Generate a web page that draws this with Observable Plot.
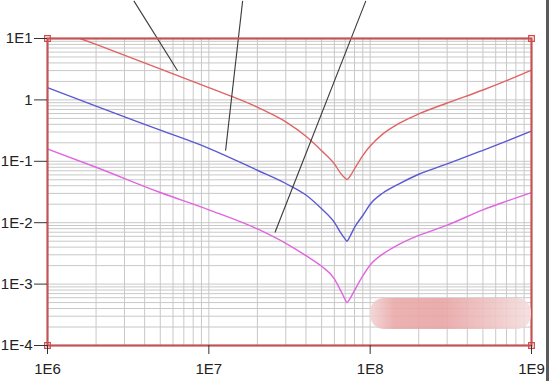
<!DOCTYPE html>
<html>
<head>
<meta charset="utf-8">
<script src="https://cdn.jsdelivr.net/npm/d3@7"></script>
<script src="https://cdn.jsdelivr.net/npm/@observablehq/plot@0.6"></script>
<style>
  html, body { margin: 0; padding: 0; background: #fff; }
  #wrap { position: relative; width: 552px; height: 381px; overflow: hidden; }
  #edge { position: absolute; left: 546px; top: 0; width: 2.5px; height: 381px; background: #5a5a5a; }
  #blur { position: absolute; left: 370px; top: 298px; width: 161px; height: 31px; border-radius: 14px;
          background: linear-gradient(90deg, #f2d4d4 0%, #e9a9a9 15%, #e8a4a4 45%, #eec2c2 75%, #f4dede 100%); opacity: 0.9; }
</style>
</head>
<body>
<div id="wrap"><div id="chart"></div><div id="edge"></div><div id="blur"></div></div>
<script>
// Frequency (Hz) and impedance magnitude
const redFreq = [1.59e6, 2e6, 5e6, 1e7, 2e7, 3e7, 4e7, 5e7, 6e7, 6.6e7, 7e7, 7.17e7, 7.5e7, 8e7, 9e7, 1e8, 1.2e8, 1.5e8, 2e8, 3e8, 5e8, 7e8, 1e9];
const redZ    = [10, 8.0, 3.2, 1.58, 0.76, 0.44, 0.256, 0.149, 0.0908, 0.0624, 0.053, 0.0504, 0.057, 0.0752, 0.124, 0.177, 0.28, 0.41, 0.59, 0.89, 1.45, 2.06, 3.06];

const blueFreq = [1e6, 2e6, 5e6, 1e7, 2e7, 3e7, 4e7, 5e7, 6e7, 6.6e7, 7e7, 7.17e7, 7.5e7, 8e7, 9e7, 1e8, 1.2e8, 1.5e8, 2e8, 3e8, 5e8, 7e8, 1e9];
const blueZ    = [1.58, 0.79, 0.322, 0.163, 0.0715, 0.0435, 0.0282, 0.0168, 0.0101, 0.0067, 0.0054, 0.0050, 0.0060, 0.0084, 0.0131, 0.0200, 0.0305, 0.0425, 0.0615, 0.0905, 0.151, 0.213, 0.31];

const magFreq = [1e6, 2e6, 5e6, 1e7, 2e7, 3e7, 4e7, 5e7, 6e7, 6.6e7, 7e7, 7.17e7, 7.5e7, 8e7, 9e7, 1e8, 1.2e8, 1.5e8, 2e8, 3e8, 5e8, 7e8, 1e9];
const magZ    = [0.159, 0.080, 0.031, 0.0162, 0.0079, 0.0046, 0.0029, 0.00195, 0.00122, 0.00076, 0.00056, 0.00050, 0.00058, 0.00079, 0.00136, 0.00205, 0.0031, 0.0044, 0.0062, 0.0091, 0.0162, 0.0224, 0.031];

// Annotation leader lines (data coordinates): start above the plot, end on a curve
const leaderStartF = [3.43e6, 1.62e7, 9.40e7];
const leaderStartZ = [41, 41, 41];
const leaderEndF   = [6.40e6, 1.27e7, 2.57e7];
const leaderEndZ   = [2.99, 0.149, 0.00693];

const xTickValues = [1e6, 1e7, 1e8, 1e9];
const xTickLabels = ["1E6", "1E7", "1E8", "1E9"];
const yTickValues = [10, 1, 0.1, 0.01, 0.001, 0.0001];
const yTickLabels = ["1E1", "1", "1E-1", "1E-2", "1E-3", "1E-4"];

const xDomain = [1e6, 1e9];
const yDomain = [1e-4, 10];

const series = [
  {f: redFreq, z: redZ, color: "#e06464"},
  {f: blueFreq, z: blueZ, color: "#5a5ad2"},
  {f: magFreq, z: magZ, color: "#e066e0"}
];
const mk = (f, z) => f.map((v, i) => ({f: v, z: z[i]}));
const leaders = leaderStartF.map((v, i) => ({x1: v, y1: leaderStartZ[i], x2: leaderEndF[i], y2: leaderEndZ[i]}));

// log grid: 1..9 multiples of each decade
const minor = (lo, hi) => {
  const out = [];
  for (let e = Math.round(Math.log10(lo)); e < Math.round(Math.log10(hi)); e++)
    for (let m = 1; m <= 9; m++) out.push(m * Math.pow(10, e));
  out.push(hi);
  return out;
};
const xGrid = minor(xDomain[0], xDomain[1]);
const yGrid = minor(yDomain[0], yDomain[1]);

const corners = [
  {f: xDomain[0], z: yDomain[0]}, {f: xDomain[0], z: yDomain[1]},
  {f: xDomain[1], z: yDomain[0]}, {f: xDomain[1], z: yDomain[1]}
];

const chart = Plot.plot({
  width: 552,
  height: 381,
  marginTop: 38,
  marginBottom: 36,
  marginLeft: 47,
  marginRight: 21,
  style: {fontFamily: "'Liberation Sans', Arial, sans-serif", fontSize: "15px", color: "#222", background: "#fff"},
  x: {type: "log", domain: xDomain},
  y: {type: "log", domain: yDomain},
  marks: [
    Plot.ruleX(xGrid, {stroke: "#c8c8c8", strokeWidth: 1}),
    Plot.ruleY(yGrid, {stroke: "#c8c8c8", strokeWidth: 1}),
    ...series.map(s => Plot.line(mk(s.f, s.z), {x: "f", y: "z", stroke: s.color, strokeWidth: 1.4, curve: "monotone-x"})),
    Plot.link(leaders, {x1: "x1", y1: "y1", x2: "x2", y2: "y2", stroke: "#3a3a3a", strokeWidth: 1.1}),
    Plot.frame({stroke: "#c45454", strokeWidth: 2.2}),
    Plot.dot(corners, {x: "f", y: "z", symbol: "square", r: 3.2, stroke: "#d04a4a", strokeWidth: 1.2, fill: "none"}),
    Plot.axisX({ticks: xTickValues, tickFormat: (d) => xTickLabels[xTickValues.indexOf(d)], tickSize: 9, tickPadding: 9, stroke: "#333", fontSize: 15, label: null}),
    Plot.axisY({ticks: yTickValues, tickFormat: (d) => yTickLabels[yTickValues.indexOf(d)], tickSize: 13, tickPadding: 2, stroke: "#333", fontSize: 15, label: null})
  ]
});
document.getElementById("chart").appendChild(chart);
</script>
</body>
</html>
